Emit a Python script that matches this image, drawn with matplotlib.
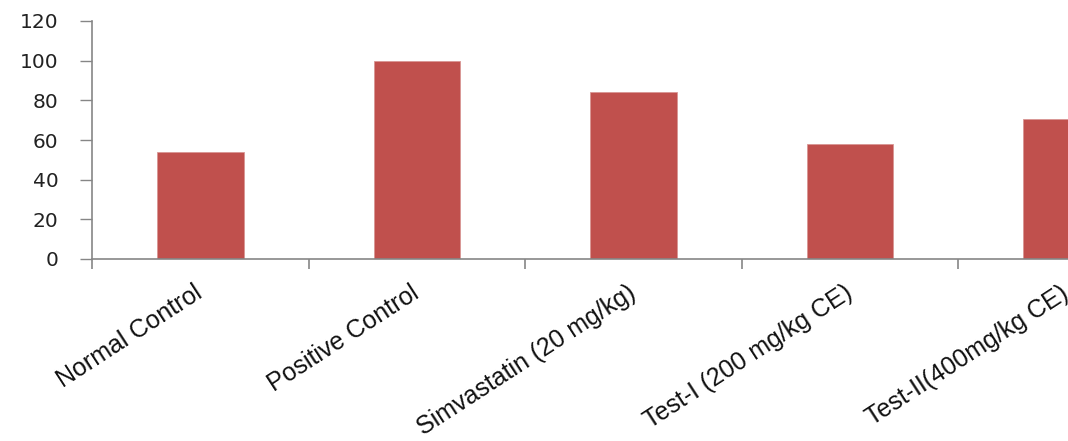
import matplotlib
matplotlib.use("Agg")
import matplotlib.pyplot as plt

# groups and measured values
groups = ["Normal Control", "Positive Control", "Simvastatin (20 mg/kg)",
          "Test-I (200 mg/kg CE)", "Test-II(400mg/kg CE)"]
values = [54, 100, 84, 58, 70.5]
yticks = [0, 20, 40, 60, 80, 100, 120]

bar_color = "#C0504D"
axis_color = "#868686"

fig = plt.figure(figsize=(10.68, 4.41), dpi=100, facecolor="white")
# axes run past the right edge of the figure, last group is cut off
ax = fig.add_axes([92 / 1068, 182 / 441, 1083 / 1068, 238 / 441])

x = list(range(len(groups)))
ax.bar(x, values, width=0.4, color=bar_color, edgecolor="#D99694", linewidth=0.6, zorder=2)

ax.set_xlim(-0.5, len(groups) - 0.5)
ax.set_ylim(0, 120)
ax.set_yticks(yticks)
ax.set_yticklabels([str(v) for v in yticks], fontsize=14.5, family="DejaVu Sans", color="#222222")

# category boundaries carry the tick marks, labels sit at the centres
ax.set_xticks([i - 0.5 for i in range(len(groups) + 1)])
ax.set_xticklabels([])
ax.set_xticks(x, minor=True)
ax.set_xticklabels(groups, minor=True, rotation=33, ha="right", va="center",
                   rotation_mode="anchor", fontsize=18, family="Liberation Sans",
                   color="#111111")
ax.tick_params(axis="x", which="minor", length=0, pad=23)
ax.tick_params(axis="x", which="major", length=7, width=1.2, color=axis_color)
ax.tick_params(axis="y", length=9, width=1.0, color=axis_color, pad=15)

for side in ["top", "right"]:
    ax.spines[side].set_visible(False)
for side in ["left", "bottom"]:
    ax.spines[side].set_color(axis_color)
    ax.spines[side].set_linewidth(1.2)

fig.savefig("out.png", dpi=100, facecolor="white")
